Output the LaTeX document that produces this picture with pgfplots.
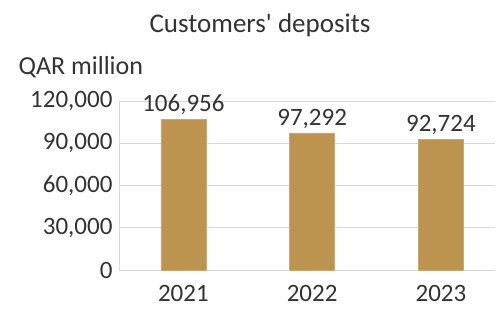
\documentclass[border=0pt]{standalone}
\usepackage{pgfplots}
\pgfplotsset{compat=1.18}
\usepackage{fontspec}
\setmainfont{Carlito}
\definecolor{bargold}{RGB}{188,148,80}
\definecolor{txt}{RGB}{51,51,51}
\definecolor{gridc}{RGB}{217,217,217}
\begin{document}
\begin{tikzpicture}
\path[use as bounding box] (-119pt,-39pt) rectangle (378pt,270pt);
\begin{axis}[
  at={(0pt,0pt)}, anchor=south west,
  scale only axis, width=376pt, height=169pt,
  xmin=-0.5, xmax=2.42, ymin=0, ymax=120000,
  xtick=data, xticklabels={2021,2022,2023},
  ytick={0,30000,60000,90000,120000},
  scaled y ticks=false,
  /pgf/number format/.cd, assume math mode=true, 1000 sep={,}, fixed, /pgfplots/.cd,
  ymajorgrids, grid style={gridc, line width=0.8pt},
  axis lines*=left,
  axis line style={gridc, line width=0.8pt},
  major tick length=0pt,
  tick label style={font=\fontsize{25}{28}\selectfont, text=txt},
  yticklabel style={xshift=-3pt},
  xticklabel style={yshift=-12pt},
  separate axis lines,
  x axis line style={-},
  y axis line style={-},
  nodes near coords,
  nodes near coords style={font=\fontsize{25}{28}\selectfont, text=txt, yshift=1pt},
  every node near coord/.append style={/pgf/number format/.cd, assume math mode=true, 1000 sep={,}, fixed},
]
\addplot[ybar, bar width=45pt, fill=bargold, draw=bargold!80!white] coordinates {(0,106956) (1,97292) (2,92724)};
\end{axis}
\node[text=txt, font=\fontsize{27}{30}\selectfont] at (141pt,245pt) {Customers\textquotesingle\ deposits};
\node[text=txt, font=\fontsize{26}{29}\selectfont, anchor=west] at (-104pt,203pt) {QAR million};
\end{tikzpicture}
\end{document}
